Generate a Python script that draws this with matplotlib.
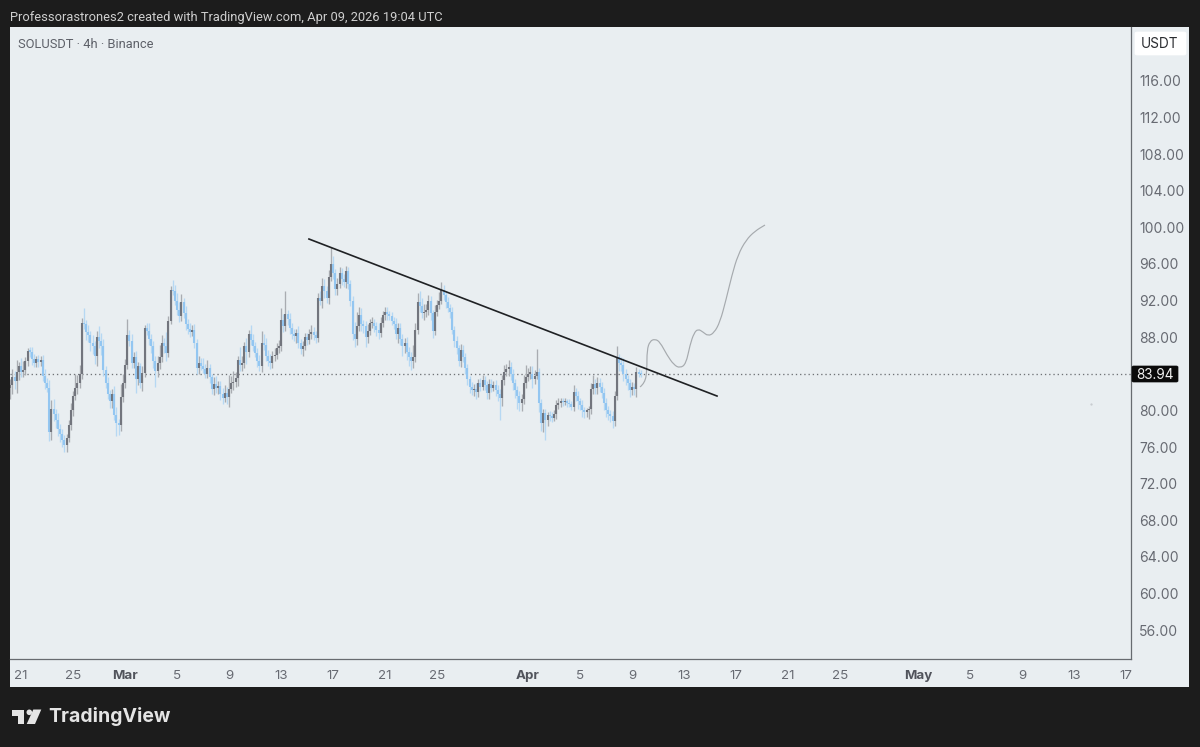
import numpy as np
import matplotlib
matplotlib.use("Agg")
import matplotlib.pyplot as plt
import matplotlib.dates as mdates
from matplotlib.patches import Rectangle, Polygon, Circle, FancyBboxPatch, PathPatch
from matplotlib.path import Path
from datetime import datetime, timedelta

W, H = 1200, 747
closes = [82.8,83.6,83.2,84.2,84.8,84.2,84.4,85.4,86.5,86.4,
85.6,85.2,85.6,85.3,85.5,83.8,83.0,82.5,77.6,80.2,
79.6,79.0,78.0,77.4,76.8,76.2,77.0,78.4,80.0,81.6,
82.4,83.0,84.0,89.6,89.4,88.6,88.2,87.4,87.0,85.9,
88.0,87.6,87.0,84.4,83.0,81.8,81.0,81.8,79.5,78.6,
78.4,81.5,83.0,85.0,88.2,87.6,85.2,85.8,83.4,84.8,
83.0,84.1,89.0,88.7,87.8,87.0,85.4,84.3,85.2,85.8,
87.4,87.0,86.3,89.8,93.2,93.0,92.0,91.0,90.3,91.8,
90.6,89.4,88.9,88.6,88.8,87.4,84.6,85.2,84.9,84.5,
84.0,84.6,83.6,82.3,82.9,82.4,82.7,81.8,81.4,81.9,
81.5,82.3,83.0,83.1,83.5,85.5,85.0,85.2,87.0,86.4,
88.4,87.7,87.0,86.3,85.4,84.9,87.4,87.2,86.0,85.4,
85.2,85.9,86.1,86.8,87.0,89.9,89.2,90.5,90.0,89.0,
88.4,88.1,88.5,87.4,86.7,87.0,88.0,87.7,88.3,88.6,
88.2,87.9,92.3,92.0,93.6,93.0,92.3,94.6,96.0,95.0,
93.3,93.8,95.0,94.4,94.0,95.2,93.8,92.0,88.4,87.8,
89.2,90.4,89.4,89.2,88.0,88.7,89.5,89.6,89.2,88.8,
88.5,89.6,90.4,90.8,90.5,90.3,89.8,89.4,88.4,89.0,
87.8,87.0,87.4,86.4,85.8,85.4,85.8,88.8,91.8,91.4,
90.6,90.7,91.0,92.0,90.6,88.7,90.8,91.5,92.0,93.2,
92.6,91.8,91.2,90.8,88.8,87.6,86.8,85.4,86.6,85.8,
84.6,83.4,82.6,82.2,82.3,82.0,83.0,82.6,83.3,82.8,
81.9,82.9,82.5,82.8,82.2,81.8,81.4,83.3,84.2,84.5,
84.7,84.0,83.0,82.2,81.6,80.8,81.2,83.0,83.6,84.0,
84.0,83.4,83.8,84.2,80.8,78.6,79.7,79.0,79.5,79.4,
79.2,79.6,80.6,80.8,81.0,80.9,81.0,80.8,80.7,80.4,
82.0,81.6,81.0,80.6,80.0,79.8,80.0,80.1,82.3,82.9,
82.4,83.0,82.6,81.9,80.8,80.0,79.6,79.4,78.8,81.6,
85.8,85.2,85.0,84.0,83.4,83.0,82.2,82.6,82.3,84.2,
84.0,83.94]
wick_up = [.6,.9,.7,1.3,.5,.9,1.0,.4,.3,.4,
.5,.6,.3,.5,.4,.6,.7,.5,.8,.9,
1.0,.6,.7,.5,.6,.5,.4,.5,.8,.5,
1.6,.9,1.0,.5,1.6,.5,.7,.5,.8,.6,
.7,1.2,.9,.8,.5,.6,.4,.5,.9,.9,
.5,1.4,1.0,.6,1.8,.6,.8,.6,.7,.5,
.4,.8,.3,.5,.9,.5,.6,.5,.7,1.4,
.8,.5,1.6,.5,.4,1.0,.7,.8,.8,.9,
.5,.8,.6,.7,.5,.6,.4,.7,.5,.8,
.6,.9,.5,.4,.8,.9,.5,.5,.6,.9,
.7,1.6,.8,1.2,.7,.5,1.4,.8,.5,.9,
.4,.9,.6,.5,.5,.7,1.3,1.0,.7,.6,
.8,.6,.7,.6,.7,1.3,.6,2.5,.5,.6,
.5,.5,.4,.7,.4,.6,.5,.5,.6,.7,
.5,.5,.5,.7,.9,.8,.6,.7,1.9,.9,
.5,.7,.7,.6,.5,.6,.5,.4,.5,1.3,
1.5,.9,.8,.5,.6,.7,.5,.6,.4,.5,
.7,.6,.5,.5,.5,.4,.5,.4,.7,.6,
.5,.5,.5,.6,.5,.6,1.3,.8,1.0,1.2,
.9,.9,.6,.6,.5,.4,.7,.6,.9,.8,
.5,.4,.6,.4,.5,.4,.5,.4,.7,.5,
.5,.5,.4,.5,.6,.7,.4,.5,.6,.5,
.4,.5,.5,.4,.5,.6,.5,.6,.8,.6,
.8,.6,.5,.4,.5,.5,.6,.9,1.4,.6,
.8,.9,.6,2.5,.4,.5,.5,.5,.3,.4,
.4,.4,.5,.6,.4,.4,.4,.3,.4,.3,
.8,.4,.5,.4,.5,.4,.3,.4,.7,1.0,
.5,.6,.5,.5,.6,.6,.5,.4,.5,.5,
1.2,.4,.6,.7,.5,.5,.4,.5,.4,.5,
.3,.4]
wick_dn = [1.2,1.0,.9,1.3,.9,.6,.5,.5,.5,.6,
.6,.5,.5,.6,.5,.6,.7,.5,.9,.8,
.8,.9,.8,.9,.8,.8,.7,.5,.5,.6,
.5,.6,.6,.6,.5,.9,.7,.9,.8,.8,
1.1,.8,.9,.6,.5,.5,.7,.7,.6,1.4,
1.1,.7,.6,.6,.5,.6,.6,.6,1.5,.6,
.5,.9,.5,.5,.6,.7,.8,1.7,.6,.7,
.5,.7,.9,.5,.4,.4,.5,.6,.6,.5,
.5,.6,.5,.6,.5,.6,.6,.6,.5,.4,
.5,.5,.6,.5,.6,.5,.6,.7,.7,.5,
.8,1.1,.4,.8,.5,.8,.7,.7,.6,1.3,
.6,.5,.5,.5,.7,.6,.7,.6,.6,.5,
.7,.6,.5,.5,.5,.5,.6,.5,.7,.6,
.6,.5,.7,.6,.5,.7,.4,.5,.4,.5,
.5,.5,.4,.5,.8,.7,.6,.7,.5,.6,
.7,.7,.4,.7,.5,.6,.5,.6,.7,.9,
.7,.5,.7,.7,1.1,.6,.5,.5,.6,.7,
.7,.5,.5,.5,.6,.4,.5,.5,.6,1.0,
.7,1.0,.7,.9,.9,1.0,.8,.5,.5,.6,
.5,.7,.5,.6,.7,.8,.5,.5,.4,.4,
.5,.6,.5,.7,.5,.7,.6,.6,.7,.5,
.6,.6,.7,.5,.6,.8,.5,.5,.4,.6,
.7,.6,.5,.4,.6,.8,2.4,.9,.5,.4,
.7,.7,.8,.8,1.4,.9,.9,.5,.5,.4,
.6,.9,.5,.4,1.0,.9,1.0,2.2,.7,.6,
.5,.4,.5,.4,.4,.4,.3,.4,.3,.4,
.5,.6,.8,.6,.7,.6,.5,.9,.5,.5,
.6,.6,.6,.5,.8,.7,.6,.7,.7,.5,
.5,.9,.7,.8,.6,.8,.7,.5,.6,.8,
.4,.3]
first_open = 82.4
last_price = 83.94

price_ticks = [116,112,108,104,100,96,92,88,84,80,76,72,68,64,60,56]
price_hidden = [84]   # covered by the last-price tag
date_ticks = ["2026-02-21","2026-02-25","2026-03-01","2026-03-05","2026-03-09","2026-03-13","2026-03-17","2026-03-21","2026-03-25",
              "2026-04-01","2026-04-05","2026-04-09","2026-04-13","2026-04-17","2026-04-21","2026-04-25",
              "2026-05-01","2026-05-05","2026-05-09","2026-05-13","2026-05-17"]
date_labels = ["21","25","Mar","5","9","13","17","21","25","Apr","5","9","13","17","21","25","May","5","9","13","17"]

trend_days = [14.15, 45.54]     # days after Mar 1
trend_prices = [98.73, 81.57]
sketch_days = [39.62,40.0,40.15,40.15,40.38,40.77,41.15,41.69,42.23,42.69,43.15,43.46,43.77,44.08,44.46,44.85,45.31,45.77,46.23,46.69,47.15,47.77,48.46,49.23]
sketch_prices = [82.56,83.0,84.42,86.6,87.58,87.8,87.48,86.05,84.96,84.63,85.07,87.15,88.46,88.9,88.57,88.13,88.46,89.66,92.07,94.8,96.99,98.62,99.6,100.26]

# pixel helpers for the layout
def fx(x): return x / W
def fy(y): return 1 - y / H

BG = "#1c1c1c"; PANE = "#e9eef1"
fig = plt.figure(figsize=(12, 7.47), dpi=100, facecolor=BG)
plt.rcParams["font.family"] = ["Inter", "DejaVu Sans"]

fig.add_artist(Rectangle((fx(10), fy(687)), 1179/W, 660/H, transform=fig.transFigure, fc=PANE, ec="none", zorder=0))

ax = fig.add_axes([fx(10), fy(659), 1121/W, 632/H], facecolor=PANE, zorder=1)
ax.patch.set_alpha(0)
ax.set_ylim(116 - (659 - 81) / 9.15, 116 - (27 - 81) / 9.15)
base = datetime(2026, 3, 1)
t0 = mdates.date2num(base)
ax.set_xlim(t0 + (10 - 125) / 13, t0 + (1131 - 125) / 13)

times = [mdates.date2num(datetime(2026, 2, 20, 4) + timedelta(hours=4 * i)) for i in range(len(closes))]
opens = [first_open] + closes[:-1]

UP_B, UP_W = "#72757d", "#a9acb1"
DN_B, DN_W = "#93c6f1", "#b6d8f3"
ax.axhline(last_price, color="#6f7276", lw=0.95, ls=(0, (1, 2.2)), zorder=1)
for t, o, c, u, d in zip(times, opens, closes, wick_up, wick_dn):
    top, bot = max(o, c), min(o, c)
    up = c >= o
    ax.vlines(t, bot - d, top + u, color=UP_W if up else DN_W, lw=0.95, zorder=2)
    ax.vlines(t, bot, max(top, bot + 0.15), color=UP_B if up else DN_B, lw=1.5, zorder=3)

ax.plot([t0 + d for d in trend_days], trend_prices, color="#1f2124", lw=1.2, zorder=5)

# freehand sketch: smooth quadratic path through the read points
pts = np.column_stack([[t0 + d for d in sketch_days], sketch_prices])
verts = [pts[0]]; codes = [Path.MOVETO]
for a, b in zip(pts[1:-1], pts[2:]):
    verts += [a, (a + b) / 2]; codes += [Path.CURVE3, Path.CURVE3]
verts.append(pts[-1]); codes.append(Path.LINETO)
ax.add_patch(PathPatch(Path(verts, codes), fc="none", ec="#a6aaae", lw=0.85, zorder=4))

ax.plot([t0 + (1091 - 125) / 13], [116 - (404 - 81) / 9.15], ".", ms=1.2, color="#c6cace", zorder=1)

for s in ["top", "left"]:
    ax.spines[s].set_visible(False)
for s in ["right", "bottom"]:
    ax.spines[s].set_color("#676b70")
    ax.spines[s].set_linewidth(0.9)

ax.yaxis.tick_right()
ax.set_yticks([p for p in price_ticks if p not in price_hidden])
ax.set_yticklabels([f"{p:.2f}" for p in price_ticks if p not in price_hidden], fontsize=10, color="#676a72")
ax.tick_params(axis="y", length=0, pad=6)
ax.set_xticks([mdates.date2num(datetime.fromisoformat(d)) for d in date_ticks])
ax.set_xticklabels(date_labels, fontsize=9.6, color="#676a72")
for lab, txt in zip(ax.get_xticklabels(), date_labels):
    if txt in ("Mar", "Apr", "May"):
        lab.set_fontweight("bold")
        lab.set_color("#51545c")
ax.tick_params(axis="x", length=0, pad=8)

# price scale decorations
fig.add_artist(FancyBboxPatch((fx(1135), fy(55)), 51/W, 23/H, boxstyle="round,pad=0,rounding_size=0.002",
                              transform=fig.transFigure, fc="#ffffff", ec="#ffffff", lw=0.5, zorder=3))
fig.text(fx(1160), fy(44.5), "USDT", ha="center", va="center", fontsize=9.8, color="#2a2c30", zorder=4)
fig.add_artist(FancyBboxPatch((fx(1132), fy(382)), 46/W, 16/H, boxstyle="round,pad=0,rounding_size=0.0015",
                              transform=fig.transFigure, fc="#0a0a0a", ec="#0a0a0a", lw=0.5, zorder=3))
fig.text(fx(1155), fy(374.6), f"{last_price:.2f}", ha="center", va="center", fontsize=9.8, color="#f2f2f2", zorder=4)

# header text
fig.text(fx(10), fy(17), "Professorastrones2 created with TradingView.com, Apr 09, 2026 19:04 UTC",
         ha="left", va="center", fontsize=9.3, color="#cfcfcf", family="Roboto")
fig.text(fx(18), fy(44.5), "SOLUSDT · 4h · Binance", ha="left", va="center", fontsize=9.3, color="#5d6068", zorder=5, family="Roboto")

# TradingView wordmark
LOGO = "#e4e4e4"
fig.add_artist(Polygon([(fx(12), fy(709.5)), (fx(24), fy(709.5)), (fx(24), fy(724)), (fx(18.3), fy(724)), (fx(18.3), fy(715.5)), (fx(12), fy(715.5))],
                       closed=True, transform=fig.transFigure, fc=LOGO, ec="none"))
fig.add_artist(Polygon([(fx(33.3), fy(709.5)), (fx(41.3), fy(709.5)), (fx(35), fy(724)), (fx(26.7), fy(724))],
                       closed=True, transform=fig.transFigure, fc=LOGO, ec="none"))
fig.add_artist(Polygon([(fx(29.3 + 2.8 * np.cos(a)), fy(712.3 + 2.8 * np.sin(a))) for a in np.linspace(0, 2 * np.pi, 24)],
                       closed=True, transform=fig.transFigure, fc=LOGO, ec="none"))
fig.text(fx(48.5), fy(717), "TradingView", ha="left", va="center", fontsize=14, fontweight="bold", color=LOGO)

fig.savefig("out.png", dpi=100, facecolor=BG)
